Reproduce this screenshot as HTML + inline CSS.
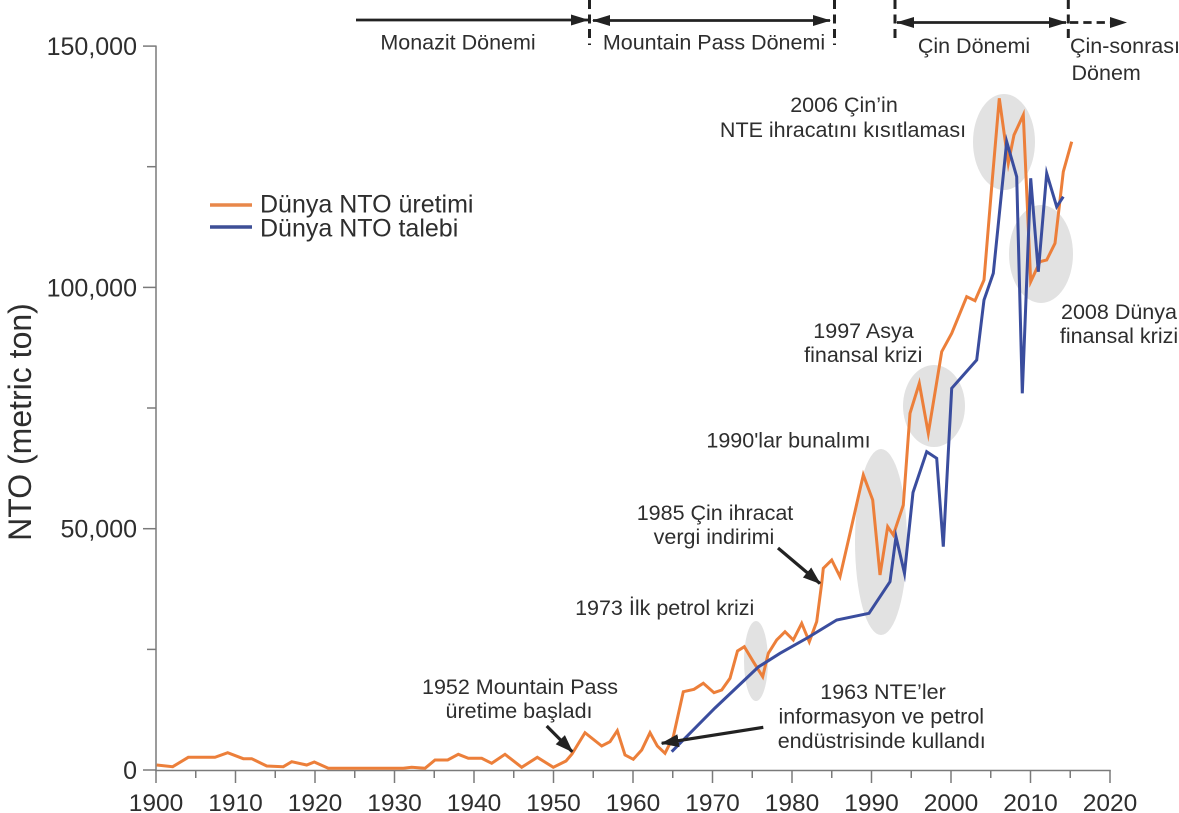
<!DOCTYPE html>
<html>
<head>
<meta charset="utf-8">
<style>
html,body{margin:0;padding:0;background:#fff;}
svg{display:block;}
text{font-family:"Liberation Sans",Arial,sans-serif;fill:#2e2e2e;}
</style>
</head>
<body>
<svg width="1179" height="813" viewBox="0 0 1179 813" xmlns="http://www.w3.org/2000/svg">
<defs>
<marker id="ah" markerUnits="userSpaceOnUse" markerWidth="18" markerHeight="12" refX="17" refY="6" orient="auto-start-reverse">
<path d="M0,0.5 L18,6 L0,11.5 z" fill="#222"/>
</marker>
<marker id="ah2" markerUnits="userSpaceOnUse" markerWidth="18" markerHeight="13" refX="17" refY="6.5" orient="auto">
<path d="M0,0 L18,6.5 L0,13 z" fill="#222"/>
</marker>
</defs>

<!-- ellipses -->
<g fill="#e2e2e2">
<ellipse cx="756" cy="661" rx="12" ry="40"/>
<ellipse cx="881" cy="542" rx="26" ry="93"/>
<ellipse cx="934" cy="406" rx="31" ry="41"/>
<ellipse cx="1004" cy="142" rx="31" ry="48"/>
<ellipse cx="1041" cy="254" rx="32" ry="49"/>
</g>

<!-- axes -->
<g stroke="#7a7a7a" stroke-width="1.5" fill="none">
<line x1="156" y1="45.5" x2="156" y2="771"/>
<line x1="155.3" y1="770.5" x2="1110.7" y2="770.5"/>
<line x1="143" y1="46.1" x2="156" y2="46.1"/>
<line x1="143" y1="287.4" x2="156" y2="287.4"/>
<line x1="143" y1="528.7" x2="156" y2="528.7"/>
<line x1="143" y1="770" x2="156" y2="770"/>
<line x1="147" y1="166.7" x2="156" y2="166.7"/>
<line x1="147" y1="408" x2="156" y2="408"/>
<line x1="147" y1="649.4" x2="156" y2="649.4"/>
<!-- x ticks -->
<line x1="156" y1="770" x2="156" y2="783"/>
<line x1="195.75" y1="770" x2="195.75" y2="778"/>
<line x1="235.5" y1="770" x2="235.5" y2="783"/>
<line x1="275.25" y1="770" x2="275.25" y2="778"/>
<line x1="315" y1="770" x2="315" y2="783"/>
<line x1="354.75" y1="770" x2="354.75" y2="778"/>
<line x1="394.5" y1="770" x2="394.5" y2="783"/>
<line x1="434.25" y1="770" x2="434.25" y2="778"/>
<line x1="474" y1="770" x2="474" y2="783"/>
<line x1="513.75" y1="770" x2="513.75" y2="778"/>
<line x1="553.5" y1="770" x2="553.5" y2="783"/>
<line x1="593.25" y1="770" x2="593.25" y2="778"/>
<line x1="633" y1="770" x2="633" y2="783"/>
<line x1="672.75" y1="770" x2="672.75" y2="778"/>
<line x1="712.5" y1="770" x2="712.5" y2="783"/>
<line x1="752.25" y1="770" x2="752.25" y2="778"/>
<line x1="792" y1="770" x2="792" y2="783"/>
<line x1="831.75" y1="770" x2="831.75" y2="778"/>
<line x1="871.5" y1="770" x2="871.5" y2="783"/>
<line x1="911.25" y1="770" x2="911.25" y2="778"/>
<line x1="951" y1="770" x2="951" y2="783"/>
<line x1="990.75" y1="770" x2="990.75" y2="778"/>
<line x1="1030.5" y1="770" x2="1030.5" y2="783"/>
<line x1="1070.25" y1="770" x2="1070.25" y2="778"/>
<line x1="1110" y1="770" x2="1110" y2="783"/>
</g>

<!-- y tick labels -->
<g font-size="25" text-anchor="end">
<text x="137" y="55">150,000</text>
<text x="137" y="296.3">100,000</text>
<text x="137" y="537.6">50,000</text>
<text x="137" y="778.9">0</text>
</g>
<!-- x tick labels -->
<g font-size="24.5" text-anchor="middle">
<text x="156" y="811">1900</text>
<text x="235.5" y="811">1910</text>
<text x="315" y="811">1920</text>
<text x="394.5" y="811">1930</text>
<text x="474" y="811">1940</text>
<text x="553.5" y="811">1950</text>
<text x="633" y="811">1960</text>
<text x="712.5" y="811">1970</text>
<text x="792" y="811">1980</text>
<text x="871.5" y="811">1990</text>
<text x="951" y="811">2000</text>
<text x="1030.5" y="811">2010</text>
<text x="1110" y="811">2020</text>
</g>

<!-- y axis title -->
<text font-size="32" text-anchor="middle" transform="translate(31,422) rotate(-90)">NTO (metric ton)</text>

<!-- legend -->
<line x1="210" y1="205" x2="252" y2="205" stroke="#e8874a" stroke-width="3.5"/>
<line x1="210" y1="227" x2="252" y2="227" stroke="#3d4f96" stroke-width="3.5"/>
<text x="260" y="212.5" font-size="25">Dünya NTO üretimi</text>
<text x="260" y="236.5" font-size="25">Dünya NTO talebi</text>

<!-- series -->
<polyline fill="none" stroke="#ec7f3a" stroke-width="3" stroke-linejoin="miter" stroke-miterlimit="6" points="156.7,765 172.7,766.7 188.3,757.3 215,757.3 227.7,752.7 243.3,758.7 251.7,758.7 266.7,766 283.3,766.7 291.7,761.7 306.7,765 314.3,762 328.3,768.3 403.3,768.3 411.7,767.3 425,768.3 435,760 447.7,760 458.3,754.3 468.3,758.3 481.7,758.3 491.7,763.3 505,754.3 521.7,767.3 537.3,757.3 553.3,767.3 566,761 572,754 585,732.7 601.7,746 610,741.7 617.3,730.7 625,755 633.3,759.3 641.7,750 650,732.7 657.3,746 665,753.3 673.3,736.7 683.3,691.7 694,689.3 703.3,683.3 714,692.7 721.7,690 730,678.3 737.5,651 744.3,646.7 753.3,661.7 762.7,676.7 768.3,653.3 776.7,640 785,631.7 793.3,640 801.7,623.3 809.3,641.7 816.7,621.7 821.7,583.3 823.3,568.3 831.7,560 840,576.7 850,533.3 863.3,475 872.7,500 880,575 887.7,526.7 893.3,535 903.3,505 910,413.3 919.3,383.3 928.3,433.3 941.7,351.7 951.7,333.3 966.7,296.7 975,300.7 984,280 991.7,186.7 999.3,98.3 1008.3,163.3 1014,135 1023.3,115 1030.7,281.7 1040,261.7 1046.7,260 1055,243.3 1063.3,171.7 1071.7,141.7"/>
<polyline fill="none" stroke="#3a4d9e" stroke-width="3" stroke-linejoin="miter" stroke-miterlimit="8" points="671.7,751.7 715,708 758.3,667 780,653.3 808,637.5 836.7,620 869,613.3 890,581.7 896,536.7 904.5,573.3 913,492.5 926.7,451.7 936.7,458.3 943.3,546.7 951.7,388.3 976.7,360 984,300 993.3,273.3 1006.7,141.7 1016.7,176.7 1022.3,393.3 1030.7,178.3 1038.3,271.7 1046.7,173.3 1056.7,206.7 1063.3,196.7"/>

<!-- annotation arrows -->
<g stroke="#222" stroke-width="3.2" fill="none">
<line x1="778" y1="548" x2="820" y2="583.5" marker-end="url(#ah2)"/>
<line x1="546.7" y1="726" x2="572.3" y2="751.7" marker-end="url(#ah2)"/>
<line x1="763.3" y1="727.3" x2="661.7" y2="743.3" marker-end="url(#ah2)"/>
</g>

<!-- annotations -->
<g font-size="21.5" text-anchor="middle">
<text x="844" y="112">2006 Çin’in</text>
<text x="843" y="137">NTE ihracatını kısıtlaması</text>
<text x="863.5" y="338">1997 Asya</text>
<text x="863.3" y="362">finansal krizi</text>
<text x="1119" y="319">2008 Dünya</text>
<text x="1119" y="343">finansal krizi</text>
<text x="788.5" y="447.5">1990'lar bunalımı</text>
<text x="715" y="520">1985 Çin ihracat</text>
<text x="714" y="544">vergi indirimi</text>
<text x="664.7" y="615">1973 İlk petrol krizi</text>
<text x="520" y="694">1952 Mountain Pass</text>
<text x="519" y="718">üretime başladı</text>
<text x="883" y="699">1963 NTE’ler</text>
<text x="881.3" y="723.5">informasyon ve petrol</text>
<text x="881.7" y="748">endüstrisinde kullandı</text>
</g>

<!-- top period arrows -->
<g stroke="#222" stroke-width="2.8" fill="none">
<line x1="356" y1="20" x2="588" y2="20" marker-end="url(#ah)"/>
<line x1="593" y1="20.5" x2="830" y2="20.5" marker-start="url(#ah)" marker-end="url(#ah)"/>
<line x1="897" y1="22.5" x2="1066" y2="22.5" marker-start="url(#ah)" marker-end="url(#ah)"/>
<line x1="1070" y1="22.5" x2="1112" y2="22.5" stroke-dasharray="8.3 5"/>
</g>
<path d="M1110,17 L1127,22.5 L1110,28 z" fill="#222"/>
<g stroke="#222" stroke-width="3" stroke-dasharray="9 5.5" fill="none">
<line x1="589.5" y1="0" x2="589.5" y2="45"/>
<line x1="834.5" y1="0" x2="834.5" y2="45"/>
<line x1="895" y1="0" x2="895" y2="43"/>
<line x1="1068.3" y1="0" x2="1068.3" y2="38"/>
</g>
<g font-size="21.5">
<text x="458" y="49.5" text-anchor="middle">Monazit Dönemi</text>
<text x="714" y="49.5" text-anchor="middle">Mountain Pass Dönemi</text>
<text x="974" y="53" text-anchor="middle">Çin Dönemi</text>
<text x="1070" y="53">Çin-sonrası</text>
<text x="1071.5" y="80">Dönem</text>
</g>
</svg>
</body>
</html>
